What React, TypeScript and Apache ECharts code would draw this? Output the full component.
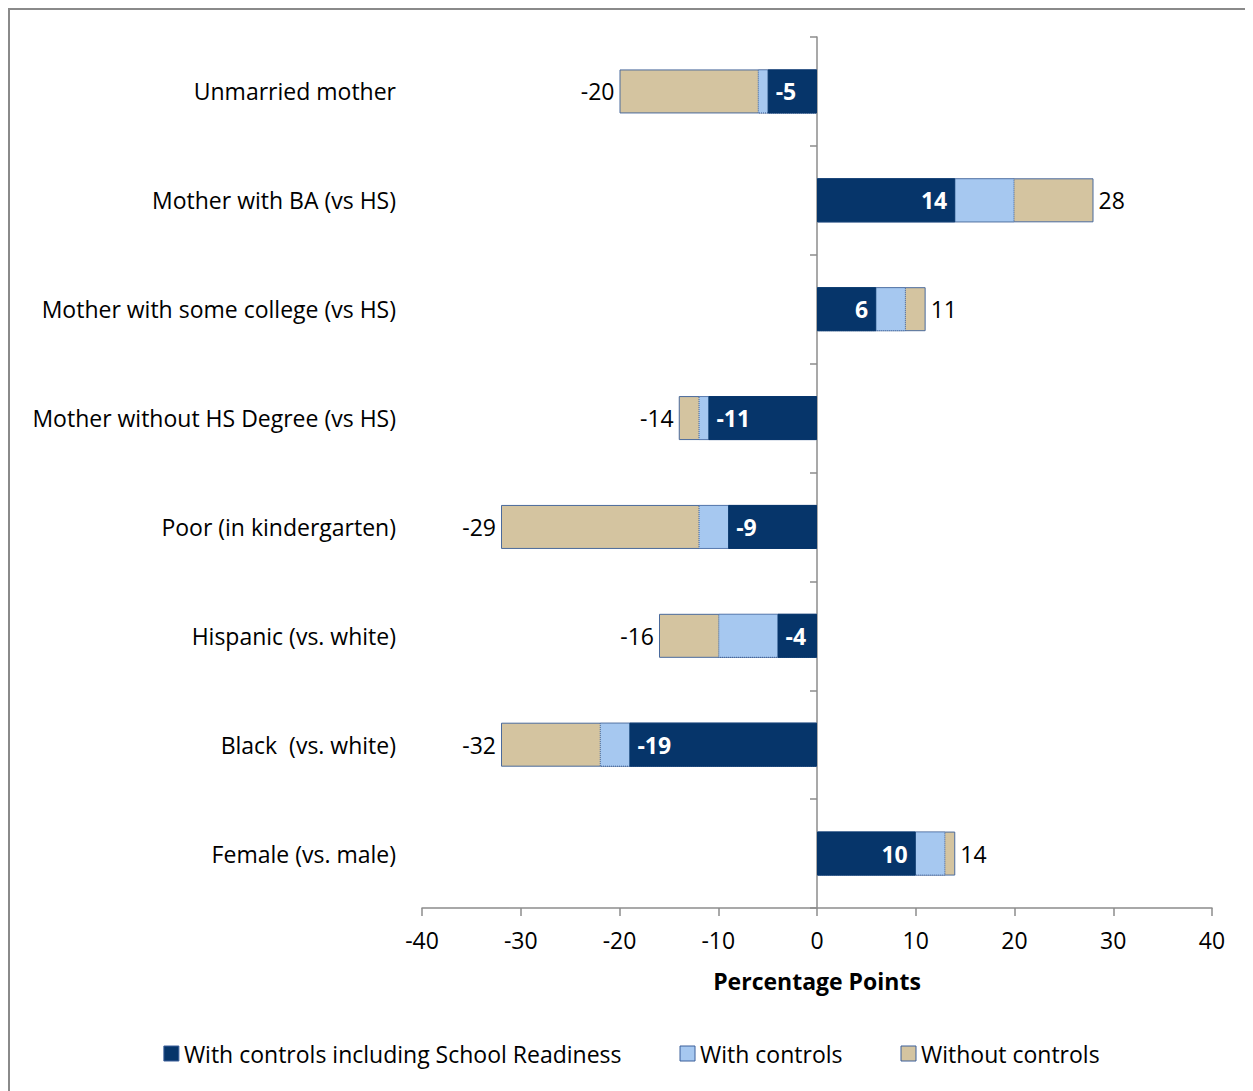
import React, { useEffect, useRef } from "react";
import * as echarts from "echarts";

const categories = [
  "Unmarried mother",
  "Mother with BA (vs HS)",
  "Mother with some college (vs HS)",
  "Mother without HS Degree (vs HS)",
  "Poor (in kindergarten)",
  "Hispanic (vs. white)",
  "Black  (vs. white)",
  "Female (vs. male)",
];
const withoutControls = [-20, 28, 11, -14, -32, -16, -32, 14];
const withoutControlsLabels = ["-20", "28", "11", "-14", "-29", "-16", "-32", "14"];
const withControls = [-6, 20, 9, -12, -12, -10, -22, 13];
const withReadiness = [-5, 14, 6, -11, -9, -4, -19, 10];
const xTicks = { min: -40, max: 40, interval: 10 };

const FONT = "'Open Sans', sans-serif";
const FS = 23;
const NAVY = "#06356a";
const LIGHT = "#a6c8f0";
const TAN = "#d4c4a0";
const AXIS = "#8c8c8c";

export default function App() {
  const ref = useRef<HTMLDivElement>(null);
  useEffect(() => {
    if (!ref.current) return;
    const chart = echarts.init(ref.current, undefined, { renderer: "svg" });
    chart.setOption({
      animation: false,
      textStyle: { fontFamily: FONT },
      grid: { left: 412, right: 41, top: 27, bottom: 183 },
      legend: {
        bottom: 21,
        left: "center",
        icon: "rect",
        itemWidth: 15,
        itemHeight: 15,
        itemGap: 58,
        itemStyle: { borderColor: "#3a5f9a", borderWidth: 1 },
        textStyle: { fontSize: FS, color: "#000", fontFamily: FONT },
        data: ["With controls including School Readiness", "With controls", "Without controls"],
      },
      xAxis: {
        type: "value",
        min: xTicks.min,
        max: xTicks.max,
        interval: xTicks.interval,
        axisLine: { show: true, lineStyle: { color: AXIS, width: 1.5 } },
        axisTick: { show: true, length: 8, lineStyle: { color: AXIS, width: 1.5 } },
        axisLabel: { fontSize: FS, color: "#000", margin: 20 },
        splitLine: { show: false },
        name: "Percentage Points",
        nameLocation: "middle",
        nameGap: 61,
        nameTextStyle: { fontSize: FS, fontWeight: "bold", color: "#000" },
      },
      yAxis: [
        {
          type: "category",
          inverse: true,
          data: categories,
          axisLine: { show: false, onZero: false },
          axisTick: { show: false },
          axisLabel: { fontSize: FS, color: "#000", margin: 26 },
        },
        {
          type: "category",
          inverse: true,
          position: "left",
          data: categories,
          axisLine: { show: true, onZero: true, lineStyle: { color: AXIS, width: 1.5 } },
          axisTick: { show: true, length: 7, lineStyle: { color: AXIS, width: 1.5 } },
          axisLabel: { show: false },
        },
      ],
      series: [
        {
          name: "Without controls",
          type: "bar",
          yAxisIndex: 0,
          barWidth: 44,
          barGap: "-100%",
          itemStyle: { color: TAN, borderColor: "#4a6a9c", borderWidth: 1 },
          data: withoutControls.map((v, i) => ({
            value: v,
            label: {
              show: true,
              position: v < 0 ? "left" : "right",
              distance: 5,
              formatter: () => withoutControlsLabels[i],
              fontSize: FS,
              color: "#000",
            },
          })),
          z: 1,
        },
        {
          name: "With controls",
          type: "bar",
          yAxisIndex: 0,
          barWidth: 44,
          barGap: "-100%",
          itemStyle: { color: LIGHT, borderColor: "#3a5f9a", borderWidth: 1, borderType: "dotted" },
          data: withControls,
          z: 2,
        },
        {
          name: "With controls including School Readiness",
          type: "bar",
          yAxisIndex: 0,
          barWidth: 44,
          barGap: "-100%",
          itemStyle: { color: NAVY, borderColor: NAVY, borderWidth: 1 },
          data: withReadiness.map((v) => ({
            value: v,
            label: {
              show: true,
              position: v < 0 ? "insideLeft" : "insideRight",
              distance: 8,
              fontSize: FS,
              fontWeight: "bold",
              color: "#fff",
            },
          })),
          z: 3,
        },
      ],
    });
    return () => chart.dispose();
  }, []);
  return (
    <div
      style={{
        width: 1245,
        height: 1083,
        boxSizing: "border-box",
        borderTop: "2px solid #8a8a8a",
        borderLeft: "2px solid #8a8a8a",
      }}
    >
      <div ref={ref} style={{ width: 1243, height: 1081 }} />
    </div>
  );
}
